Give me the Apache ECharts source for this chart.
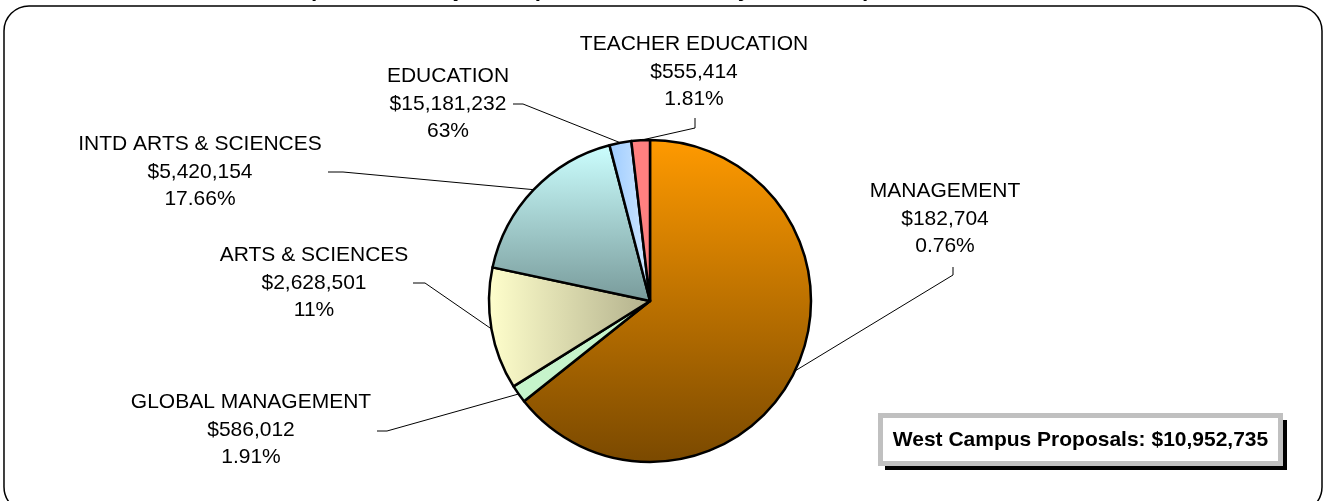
<!DOCTYPE html>
<html lang="en">
<head>
<meta charset="UTF-8">
<title>West Campus Proposals</title>
<style>
	* {
		margin: 0;
		padding: 0;
	}

	html,
	body {
		width: 100%;
		height: 100%;
		background: #fff;
	}

	#chart {
		width: 1325px;
		height: 501px;
	}
</style>
</head>
<body>
<div id="chart"></div>
<script src="https://cdn.jsdelivr.net/npm/echarts@6/dist/echarts.min.js"></script>
<script>
	// slices, clockwise from 12 o'clock
	var units = ['MANAGEMENT', 'GLOBAL MANAGEMENT', 'ARTS & SCIENCES', 'INTD ARTS & SCIENCES', 'EDUCATION', 'TEACHER EDUCATION'];
	var amountLabels = ['$182,704', '$586,012', '$2,628,501', '$5,420,154', '$15,181,232', '$555,414'];
	var percentLabels = ['0.76%', '1.91%', '11%', '17.66%', '63%', '1.81%'];
	// share of the circle each slice takes in the picture (%)
	var sliceShare = [64.3, 1.8, 12.25, 17.6, 2.2, 1.85];
	var titleText = 'Chart 3: Sponsored Project Proposals Submitted by West Campus Units, Fiscal Year 2006';
	var totalText = 'West Campus Proposals: $10,952,735';

	// label block centres and the two outer points of each leader line
	var labelPos = [[945, 219], [251, 430], [314, 283], [200, 172], [448, 104], [694, 72]];
	var labelBend = [[953, 275], [387, 431], [425, 283], [343, 172], [523, 104], [695, 128]];
	var labelEnd = [[953, 267], [377, 431], [413, 283], [328, 172], [513, 104], [695, 118]];

	var grad = echarts.graphic.LinearGradient;
	var fills = [
		new grad(0, 0, 0, 1, [{ offset: 0, color: '#ff9a00' }, { offset: 1, color: '#7a4900' }]),
		'#c6f4cb',
		new grad(0, 0, 1, 0, [{ offset: 0, color: '#ffffcc' }, { offset: 1, color: '#b2b08c' }]),
		new grad(0, 0, 0, 1, [{ offset: 0, color: '#ccffff' }, { offset: 1, color: '#789a9a' }]),
		new grad(0, 0, 1, 0, [{ offset: 0, color: '#9ccbff' }, { offset: 1, color: '#d2e8ff' }]),
		'#ff8080'
	];

	var font = 'Arial, "Liberation Sans", Helvetica, sans-serif';

	var data = units.map(function (name, i) {
		return {
			name: name,
			value: sliceShare[i],
			itemStyle: { color: fills[i] }
		};
	});

	var chart = echarts.init(document.getElementById('chart'));
	chart.setOption({
		animation: false,
		backgroundColor: '#fff',
		graphic: [
			{
				// rounded frame
				type: 'rect',
				shape: { x: 4, y: 6, width: 1318, height: 506, r: 25 },
				style: { fill: 'none', stroke: '#000', lineWidth: 1.5 },
				silent: true
			},
			{
				// title, mostly cut off by the top edge
				type: 'text',
				x: 678,
				y: 0.5,
				style: {
					text: titleText,
					font: 'italic bold 22px ' + font,
					fill: '#000',
					align: 'center',
					verticalAlign: 'bottom'
				},
				silent: true
			},
			{
				type: 'rect',
				shape: { x: 885, y: 420, width: 402, height: 50 },
				style: { fill: '#000' },
				silent: true
			},
			{
				type: 'rect',
				shape: { x: 880.5, y: 415.5, width: 400, height: 48 },
				style: { fill: '#fff', stroke: '#c0c0c0', lineWidth: 5 },
				silent: true
			},
			{
				type: 'text',
				x: 1080.5,
				y: 440,
				style: {
					text: totalText,
					font: 'bold 21px ' + font,
					fill: '#000',
					align: 'center',
					verticalAlign: 'middle'
				},
				silent: true
			}
		],
		series: [{
			type: 'pie',
			center: [650, 301],
			radius: 161,
			startAngle: 90,
			clockwise: true,
			avoidLabelOverlap: false,
			minShowLabelAngle: 0,
			emphasis: { disabled: true },
			itemStyle: { borderColor: '#000', borderWidth: 2.5 },
			label: {
				show: true,
				position: 'outside',
				color: '#000',
				fontFamily: font,
				fontSize: 21,
				lineHeight: 27.5,
				align: 'center',
				formatter: function (p) {
					var i = p.dataIndex;
					return units[i] + '\n' + amountLabels[i] + '\n' + percentLabels[i];
				}
			},
			labelLine: {
				show: true,
				length: 10,
				length2: 10,
				smooth: false,
				lineStyle: { color: '#000', width: 1 }
			},
			labelLayout: function (p) {
				var i = p.dataIndex;
				var pts = p.labelLinePoints;
				var start = pts ? pts[0] : labelBend[i];
				return {
					x: labelPos[i][0],
					y: labelPos[i][1],
					align: 'center',
					verticalAlign: 'middle',
					labelLinePoints: [start, labelBend[i], labelEnd[i]]
				};
			},
			data: data
		}]
	});
</script>
</body>
</html>
